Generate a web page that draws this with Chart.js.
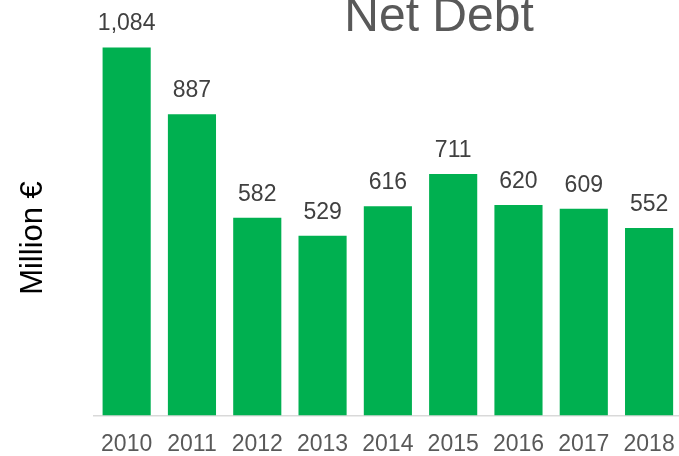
<!DOCTYPE html>
<html>
<head>
<meta charset="utf-8">
<title>Net Debt</title>
<script src="https://cdn.jsdelivr.net/npm/chart.js@4/dist/chart.umd.min.js"></script>
<style>
  html, body { margin: 0; padding: 0; background: #fff; overflow: hidden; }
  #wrap { position: relative; width: 690px; height: 456px; }
</style>
</head>
<body>
<div id="wrap"><canvas id="debt-chart"></canvas></div>
<script>
// Net debt per year, million euro
const years = ["2010", "2011", "2012", "2013", "2014", "2015", "2016", "2017", "2018"];
const netDebt = [1084, 887, 582, 529, 616, 711, 620, 609, 552];

const chartTitle = "Net Debt";
const axisTitle = "Million €";

const FONT = "'Liberation Sans', Arial, sans-serif";

// Value labels above each bar
const valueLabels = {
  id: "valueLabels",
  afterDatasetsDraw(chart) {
    const ctx = chart.ctx;
    const meta = chart.getDatasetMeta(0);
    ctx.save();
    ctx.font = "23px " + FONT;
    ctx.fillStyle = "#404040";
    ctx.textAlign = "center";
    ctx.textBaseline = "alphabetic";
    meta.data.forEach((bar, i) => {
      ctx.fillText(netDebt[i].toLocaleString("en-US"), bar.x, bar.y - 17);
    });
    ctx.restore();
  },
};

// Big title and the rotated axis title
const titles = {
  id: "titles",
  afterDraw(chart) {
    const ctx = chart.ctx;
    ctx.save();
    ctx.font = "48px " + FONT;
    ctx.fillStyle = "#595959";
    ctx.textAlign = "center";
    ctx.textBaseline = "alphabetic";
    ctx.fillText(chartTitle, 439, 31);

    ctx.translate(33, 238);
    ctx.rotate(-Math.PI / 2);
    ctx.font = "31px " + FONT;
    ctx.fillStyle = "#000";
    ctx.textBaseline = "middle";
    ctx.fillText(axisTitle, 0, 0);
    ctx.restore();
  },
};

const ctx = document.getElementById("debt-chart").getContext("2d");

new Chart(ctx, {
  type: "bar",
  data: {
    labels: years,
    datasets: [
      {
        label: "Net Debt",
        data: netDebt,
        backgroundColor: "#00b050",
        borderWidth: 0,
        barPercentage: 0.737,
        categoryPercentage: 1,
      },
    ],
  },
  options: {
    responsive: true,
    maintainAspectRatio: false,
    animation: false,
    layout: {
      padding: { left: 94, right: 6, top: 8, bottom: 0 },
    },
    scales: {
      x: {
        grid: { display: false, drawTicks: false },
        border: { display: true, color: "#d9d9d9", width: 1.5 },
        ticks: {
          color: "#595959",
          font: { size: 23, family: FONT },
          padding: 15,
          maxRotation: 0,
          autoSkip: false,
        },
        afterFit(scale) {
          scale.height = 40.5;
        },
      },
      y: {
        display: false,
        min: 0,
        max: 1200,
      },
    },
    plugins: {
      legend: { display: false },
      title: { display: false },
      tooltip: { enabled: false },
    },
  },
  plugins: [valueLabels, titles],
});
</script>
</body>
</html>
